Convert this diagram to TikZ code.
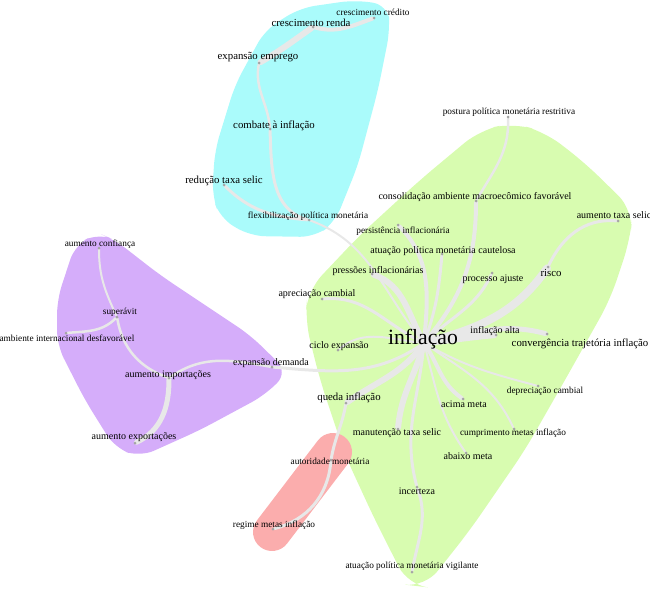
\documentclass[tikz,border=0pt]{standalone}
\usepackage{fontspec}
\setmainfont{Liberation Serif}
\pgfdeclarelayer{back}
\pgfsetlayers{back,main}
\definecolor{cyanblob}{RGB}{170,251,251}
\definecolor{greenblob}{RGB}{216,252,176}
\definecolor{purpleblob}{RGB}{213,173,250}
\definecolor{redblob}{RGB}{251,173,173}
\definecolor{edgegray}{RGB}{232,232,232}
\definecolor{dotgray}{RGB}{165,165,165}

\begin{document}
\begin{tikzpicture}[x=1pt, y=-1pt,
        dotnode/.style={circle, fill=dotgray, inner sep=0pt, minimum size=3pt},
        hubnode/.style={inner sep=0pt, minimum size=0pt},
        smalltext/.style={anchor=base, inner sep=0pt, font=\fontsize{9.3}{11}\selectfont},
        midtext/.style={anchor=base, inner sep=0pt, font=\fontsize{10}{12}\selectfont},
        bigtext/.style={anchor=base, inner sep=0pt, font=\fontsize{10.8}{13}\selectfont},
        hubtext/.style={anchor=base, inner sep=0pt, font=\fontsize{21.7}{26}\selectfont},
        link/.style={draw=edgegray, line cap=round},
        ]
                \useasboundingbox (0,0) rectangle (650,589);

                % clusters
                \begin{pgfonlayer}{back}
                \fill[cyanblob, rounded corners=15pt] (212,195) -- (215,150) -- (235,85) -- (265,30) -- (300,8) -- (355,0) -- (388,5) -- (390,30) -- (378,90) -- (358,165) -- (335,222) -- (315,237) -- (250,236) -- (220,218) -- cycle;
                \fill[greenblob, rounded corners=20pt] (513,123) -- (545,132) -- (585,163) -- (633,210) -- (630,240) -- (610,300) -- (565,380) -- (525,450) -- (470,530) -- (425,587) -- (408,585) -- (375,520) -- (345,455) -- (320,380) -- (305,320) -- (308,290) -- (360,235) -- (420,180) -- (480,130) -- cycle;
                \fill[purpleblob, rounded corners=15pt] (98,233) -- (75,245) -- (57,300) -- (57,345) -- (85,400) -- (115,448) -- (140,457) -- (200,430) -- (265,395) -- (288,372) -- (250,335) -- (160,275) -- (115,240) -- cycle;
                \draw[redblob, line width=38pt, line cap=round] (272,532) -- (333,452);
                \end{pgfonlayer}

                % points
                \node[dotnode]  at(374,18) (1) {};
                \node[dotnode]  at(313,27) (2) {};
                \node[dotnode]  at(259,63) (3) {};
                \node[dotnode]  at(270,129) (4) {};
                \node[dotnode]  at(224,185) (5) {};
                \node[dotnode]  at(309,220) (6) {};
                \node[dotnode]  at(508,117) (7) {};
                \node[dotnode]  at(476,201) (8) {};
                \node[dotnode]  at(618,221) (9) {};
                \node[dotnode]  at(398,225) (10) {};
                \node[dotnode]  at(442,254) (11) {};
                \node[dotnode]  at(372,274) (12) {};
                \node[dotnode]  at(492,273) (13) {};
                \node[dotnode]  at(548,267) (14) {};
                \node[dotnode]  at(322,299) (15) {};
                \node[hubnode]  at(424,343) (16) {};
                \node[dotnode]  at(496,335) (17) {};
                \node[dotnode]  at(547,334) (18) {};
                \node[dotnode]  at(338,350) (19) {};
                \node[dotnode]  at(272,367) (20) {};
                \node[dotnode]  at(538,386) (21) {};
                \node[dotnode]  at(346,403) (22) {};
                \node[dotnode]  at(463,399) (23) {};
                \node[dotnode]  at(398,429) (24) {};
                \node[dotnode]  at(514,429) (25) {};
                \node[dotnode]  at(466,453) (26) {};
                \node[dotnode]  at(331,460) (27) {};
                \node[dotnode]  at(417,487) (28) {};
                \node[dotnode]  at(273,529) (29) {};
                \node[dotnode]  at(412,572) (30) {};
                \node[dotnode]  at(99,248) (31) {};
                \node[dotnode]  at(117,317) (32) {};
                \node[dotnode]  at(66,333) (33) {};
                \node[dotnode]  at(169,378) (34) {};
                \node[dotnode]  at(135,443) (35) {};

                % labels
                \node[smalltext]  at(373,16) (t1) {crescimento crédito};
                \node[bigtext]  at(311,26) (t2) {crescimento renda};
                \node[bigtext]  at(258,59) (t3) {expansão emprego};
                \node[bigtext]  at(274,128) (t4) {combate à inflação};
                \node[bigtext]  at(224,183) (t5) {redução taxa selic};
                \node[smalltext]  at(308,218) (t6) {flexibilização política monetária};
                \node[smalltext]  at(509,114) (t7) {postura política monetária restritiva};
                \node[midtext]  at(475,199) (t8) {consolidação ambiente macroecômico favorável};
                \node[midtext]  at(614,218) (t9) {aumento taxa selic};
                \node[smalltext]  at(403,233) (t10) {persistência inflacionária};
                \node[midtext]  at(443,253) (t11) {atuação política monetária cautelosa};
                \node[midtext]  at(378,273) (t12) {pressões inflacionárias};
                \node[midtext]  at(493,281) (t13) {processo ajuste};
                \node[bigtext]  at(551,276) (t14) {risco};
                \node[midtext]  at(317,296) (t15) {apreciação cambial};
                \node[hubtext]  at(423,344) (t16) {inflação};
                \node[midtext]  at(495,333) (t17) {inflação alta};
                \node[bigtext]  at(580,346) (t18) {convergência trajetória inflação};
                \node[midtext]  at(339,348) (t19) {ciclo expansão};
                \node[midtext]  at(271,365) (t20) {expansão demanda};
                \node[smalltext]  at(545,393) (t21) {depreciação cambial};
                \node[bigtext]  at(349,400) (t22) {queda inflação};
                \node[midtext]  at(464,407) (t23) {acima meta};
                \node[midtext]  at(397,435) (t24) {manutenção taxa selic};
                \node[smalltext]  at(513,435) (t25) {cumprimento metas inflação};
                \node[midtext]  at(468,459) (t26) {abaixo meta};
                \node[smalltext]  at(330,464) (t27) {autoridade monetária};
                \node[midtext]  at(417,494) (t28) {incerteza};
                \node[smalltext]  at(274,527) (t29) {regime metas inflação};
                \node[smalltext]  at(412,568) (t30) {atuação política monetária vigilante};
                \node[smalltext]  at(100,246) (t31) {aumento confiança};
                \node[smalltext]  at(120,314) (t32) {superávit};
                \node[smalltext]  at(67,341) (t33) {ambiente internacional desfavorável};
                \node[midtext]  at(168,377) (t34) {aumento importações};
                \node[midtext]  at(134,439) (t35) {aumento exportações};

                % links
                \begin{pgfonlayer}{back}
                \draw[link, line width=4pt] (1) to[out=200, in=-15] (2);
                \draw[link, line width=6pt] (2) to[out=215, in=30] (3);
                \draw[link, line width=2.5pt] (3) to[out=-100, in=95] (4);
                \draw[link, line width=3pt] (4) to[out=-88, in=165] (6);
                \draw[link, line width=3pt] (5) to[out=-45, in=175] (6);
                \draw[link, line width=2pt] (6) to[out=-20, in=130] (16);
                \draw[link, line width=2.5pt] (7) to[out=-88, in=60] (8);
                \draw[link, line width=4pt] (8) to[out=-90, in=50] (16);
                \draw[link, line width=3pt] (9) to[out=175, in=65] (14);
                \draw[link, line width=8pt] (14) to[out=-125, in=15] (16);
                \draw[link, line width=4pt] (10) to[out=-45, in=85] (16);
                \draw[link, line width=3pt] (11) to[out=-95, in=70] (16);
                \draw[link, line width=6pt] (12) to[out=-20, in=120] (16);
                \draw[link, line width=3pt] (13) to[out=-115, in=45] (16);
                \draw[link, line width=3pt] (15) to[out=5, in=155] (16);
                \draw[link, line width=6pt] (17) to[out=185, in=5] (16);
                \draw[link, line width=5pt] (18) to[out=165, in=10] (16);
                \draw[link, line width=2pt] (19) to[out=40, in=175] (16);
                \draw[link, line width=3pt] (20) to[out=-5, in=215] (16);
                \draw[link, line width=2pt] (21) to[out=165, in=-30] (16);
                \draw[link, line width=6pt] (22) to[out=35, in=235] (16);
                \draw[link, line width=4pt] (23) to[out=145, in=-55] (16);
                \draw[link, line width=6pt] (24) to[out=85, in=-105] (16);
                \draw[link, line width=2pt] (25) to[out=115, in=-35] (16);
                \draw[link, line width=2pt] (26) to[out=125, in=-75] (16);
                \draw[link, line width=3pt] (28) to[out=105, in=-95] (16);
                \draw[link, line width=3pt] (28) to[out=-70, in=80] (30);
                \draw[link, line width=3pt] (27) to[out=80, in=-100] (22);
                \draw[link, line width=3pt] (27) to[out=-95, in=15] (29);
                \draw[link, line width=2pt] (31) to[out=-90, in=115] (32);
                \draw[link, line width=2.5pt] (32) to[out=-135, in=5] (33);
                \draw[link, line width=2.5pt] (32) to[out=-80, in=160] (34);
                \draw[link, line width=2.5pt] (34) to[out=35, in=170] (20);
                \draw[link, line width=5pt] (34) to[out=-90, in=25] (35);
                \end{pgfonlayer}

            \end{tikzpicture}
\end{document}
